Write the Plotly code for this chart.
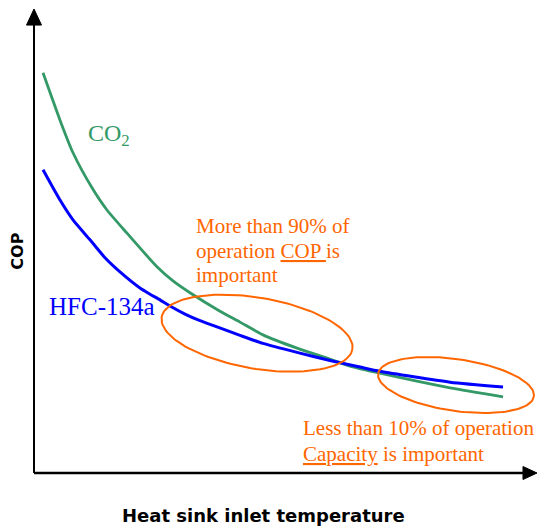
import numpy as np
import plotly.graph_objects as go

# ---- data (schematic: heat sink inlet temperature index vs COP index) ----
temp_co2 = [1.79, 5.16, 7.74, 11.51, 14.48, 18.45, 24.40, 27.58, 30.95, 36.90, 40.87,
            45.44, 52.18, 58.73, 62.70, 68.65, 82.54, 93.06]
cop_co2 = [8.46, 7.46, 6.77, 6.03, 5.56, 5.07, 4.36, 4.06, 3.81, 3.42, 3.19,
           2.92, 2.64, 2.41, 2.26, 2.11, 1.80, 1.61]

temp_hfc = [1.79, 5.16, 7.74, 11.11, 14.09, 17.06, 21.03, 23.02, 25.00, 26.98, 29.96,
            32.94, 36.31, 40.87, 45.44, 52.18, 58.73, 64.68, 68.65, 82.54, 93.06]
cop_hfc = [6.41, 5.77, 5.35, 4.93, 4.55, 4.25, 3.91, 3.78, 3.66, 3.53, 3.36,
           3.22, 3.09, 2.91, 2.74, 2.55, 2.38, 2.24, 2.15, 1.92, 1.82]

series_names = ["CO<sub>2</sub>", "HFC-134a"]
x_title = "Heat sink inlet temperature"
y_title = "COP"

GREEN = "#339966"
BLUE = "#0000FF"
ORANGE = "#FF6600"

W, H = 538, 526
X_RANGE = [-6.746, 100.0]
Y_RANGE = [-1.1205, 10.0]
PX_X = W / (X_RANGE[1] - X_RANGE[0])
PX_Y = H / (Y_RANGE[1] - Y_RANGE[0])


def ellipse(cx, cy, a_px, b_px, ang_deg, n=121):
    t = np.linspace(0, 2 * np.pi, n)
    th = np.deg2rad(ang_deg)
    dx = a_px * np.cos(t) * np.cos(th) - b_px * np.sin(t) * np.sin(th)
    dy = a_px * np.cos(t) * np.sin(th) + b_px * np.sin(t) * np.cos(th)
    return cx + dx / PX_X, cy - dy / PX_Y


fig = go.Figure()
fig.add_trace(go.Scatter(x=temp_co2, y=cop_co2, mode="lines", name=series_names[0],
                         line=dict(color=GREEN, width=2.8, shape="spline", smoothing=0.6),
                         hoverinfo="skip"))
fig.add_trace(go.Scatter(x=temp_hfc, y=cop_hfc, mode="lines", name=series_names[1],
                         line=dict(color=BLUE, width=3, shape="spline", smoothing=0.6),
                         hoverinfo="skip"))

# highlight ellipses
for (cx, cy, a, b, ang) in [(44.25, 2.956, 96.7, 35.5, 9.6), (83.73, 1.86, 78.7, 25.9, 8.3)]:
    ex, ey = ellipse(cx, cy, a, b, ang)
    fig.add_trace(go.Scatter(x=ex, y=ey, mode="lines", line=dict(color=ORANGE, width=2),
                             hoverinfo="skip", showlegend=False))

# axes with arrows
fig.add_shape(type="line", x0=0, y0=0, x1=0, y1=9.49, line=dict(color="black", width=2))
fig.add_shape(type="path", path=f"M {-7.5/PX_X} 9.47 L {7.5/PX_X} 9.47 L 0 9.81 Z",
              fillcolor="black", line=dict(color="black", width=1))
fig.add_shape(type="line", x0=0, y0=0, x1=97.2, y1=0, line=dict(color="black", width=2.5))
fig.add_shape(type="path", path=f"M 97.02 {-6.5/PX_Y} L 97.02 {6.5/PX_Y} L 99.8 0 Z",
              fillcolor="black", line=dict(color="black", width=1))

serif = "Liberation Serif, Times New Roman, serif"
anns = [
    dict(x=10.52, y=7.15, text=series_names[0], font=dict(family=serif, size=24, color=GREEN)),
    dict(x=2.78, y=3.52, text=series_names[1], font=dict(family=serif, size=25, color=BLUE)),
    dict(x=31.94, y=5.22, text="More than 90% of", font=dict(family=serif, size=21, color=ORANGE)),
    dict(x=31.94, y=4.69, text="operation <u>COP </u>is", font=dict(family=serif, size=21, color=ORANGE)),
    dict(x=31.94, y=4.19, text="important", font=dict(family=serif, size=21, color=ORANGE)),
    dict(x=53.17, y=0.95, text="Less than 10% of operation", font=dict(family=serif, size=21, color=ORANGE)),
    dict(x=53.17, y=0.40, text="<u>Capacity</u> is important", font=dict(family=serif, size=21, color=ORANGE)),
]
for a in anns:
    fig.add_annotation(xref="x", yref="y", showarrow=False, xanchor="left", yanchor="middle",
                       borderpad=0, **a)

fig.add_annotation(xref="x", yref="y", x=45.63, y=-0.89, text=f"<b>{x_title}</b>", showarrow=False,
                   xanchor="center", yanchor="middle",
                   font=dict(family="DejaVu Sans, Arial, sans-serif", size=18, color="black"))
fig.add_annotation(xref="x", yref="y", x=-3.27, y=4.69, text=f"<b>{y_title}</b>", showarrow=False,
                   xanchor="center", yanchor="middle", textangle=-90,
                   font=dict(family="DejaVu Sans, Arial, sans-serif", size=16, color="black"))

fig.update_layout(
    width=W, height=H,
    margin=dict(l=0, r=0, t=0, b=0),
    paper_bgcolor="white", plot_bgcolor="white",
    showlegend=False,
    xaxis=dict(range=X_RANGE, visible=False, fixedrange=True),
    yaxis=dict(range=Y_RANGE, visible=False, fixedrange=True),
)
post = ("document.documentElement.style.overflow='hidden';"
        "document.body.style.margin='0';document.body.style.overflow='hidden';")
fig.write_html("out.html", config={"displayModeBar": False}, post_script=post)
